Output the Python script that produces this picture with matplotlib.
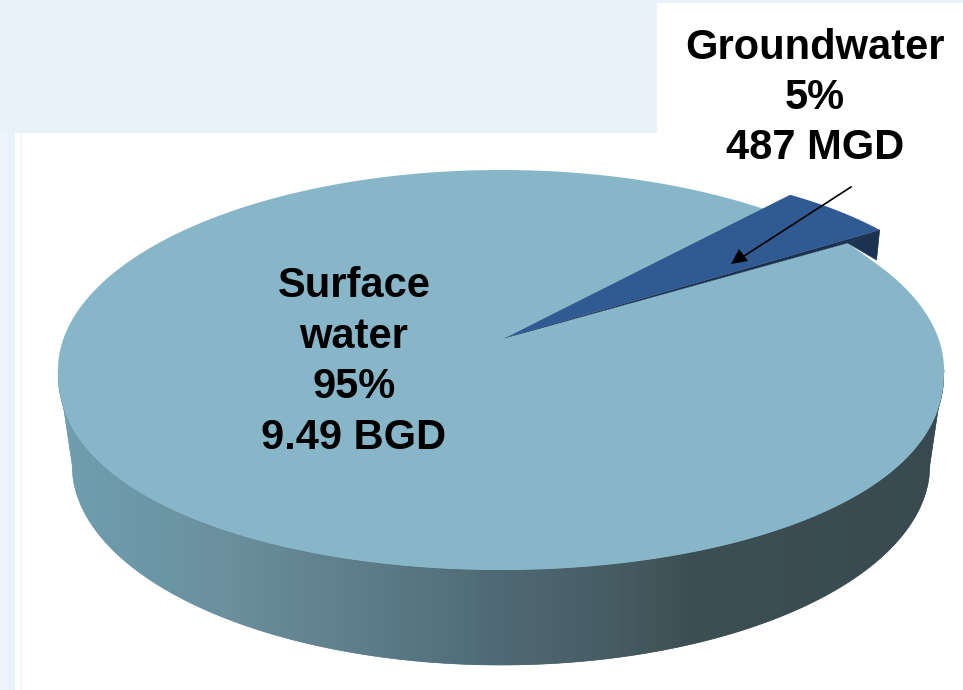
import numpy as np
import matplotlib
matplotlib.use("Agg")
import matplotlib.pyplot as plt
from matplotlib.colors import LinearSegmentedColormap
from matplotlib.patches import Polygon, Rectangle
from matplotlib.collections import PolyCollection

# ---- data ----
categories = ["Surface\nwater", "Groundwater"]
shares = [95, 5]
amounts = ["9.49 BGD", "487 MGD"]

# ---- layout (pixels of the 963x690 canvas) ----
W, H = 963, 690
CX, CY, RX, RY = 501, 370, 443, 200
DEPTH = 95 / RY
BASE_RX = 0.968               # the far rim of the base is a little narrower
FRONT_BULGE = 0.9             # front of the face is slightly fuller than an ellipse
APEX = (0.009, 0.16)          # where the wedge tip sits on the tilted face
START = 33.0                  # lower edge of the small slice, degrees
PERSPECTIVE = 1.13            # tilt widens the small slice on the face
RIM_R = 0.856                 # small slice's raised rim
RIM_START = 40.0
LIFT = (0.199, 0.15)

LIGHT = "#87b6c8"
BLUE = "#2f5a92"
NAVY = "#1b3350"
BG = "#e9f1fa"

fig = plt.figure(figsize=(W / 100, H / 100), dpi=100, facecolor=BG)
ax = fig.add_axes([0, 0, 1, 1])
ax.set_xlim(-CX / RX, (W - CX) / RX)
ax.set_ylim((CY - H) / RY, CY / RY)
ax.axis("off")

px = lambda p: (p - CX) / RX
py = lambda p: (CY - p) / RY


def face(theta):
    """Outline of the tilted top face for angles in radians."""
    s = np.sin(theta)
    return np.column_stack([np.cos(theta),
                            np.where(s < 0, -np.abs(s) ** FRONT_BULGE, s)])


# background panels
ax.add_patch(Rectangle((px(15), py(H)), px(W) - px(15), py(133) - py(H), fc="white", ec="none", zorder=0))
ax.add_patch(Rectangle((px(657), py(133)), px(W) - px(657), py(3) - py(133), fc="white", ec="none", zorder=0))
ax.add_patch(Rectangle((px(0), py(H)), px(8) - px(0), py(133) - py(H), fc="#edf4fc", ec="none", zorder=0))
ax.add_patch(Rectangle((px(20), py(H)), px(22) - px(20), py(133) - py(H), fc="#f6f6f6", ec="none", zorder=0))

span = 360 * shares[1] / sum(shares) * PERSPECTIVE

# cylinder wall, shaded from left to right in one-pixel columns
wall_cmap = LinearSegmentedColormap.from_list(
    "wall",
    [(0.0, "#6e9fb0"), (0.20, "#6a8e9c"), (0.32, "#5f808d"), (0.49, "#4f6a75"),
     (0.63, "#465b62"), (0.72, "#3b4e53"), (1.0, "#384a4f")])
phi = np.linspace(np.pi, 2 * np.pi, 1400)
rim_front = face(phi)
base_x = np.r_[-1.0, BASE_RX * np.cos(phi), 1.0]
base_y = np.r_[0.0, np.sin(phi) - DEPTH, 0.0]
columns = px(np.arange(CX - RX, CX + RX + 1))
quads, cols = [], []
for a, b in zip(columns[:-1], columns[1:]):
    ta, tb = np.interp([a, b], rim_front[:, 0], rim_front[:, 1])
    ba, bb = np.interp([a, b], base_x, base_y)
    quads.append([(a, ta), (b, tb), (b, bb), (a, ba)])
    cols.append(wall_cmap((a + b + 2) / 4))
ax.add_collection(PolyCollection(quads, facecolors=cols, edgecolors=cols, linewidths=0.4,
                                 joinstyle="round", capstyle="round", zorder=1))

# groundwater slice geometry
th2 = np.radians(np.linspace(RIM_START, RIM_START + 360 * shares[1] / sum(shares), 40))
rim = np.column_stack([RIM_R * np.cos(th2) + LIFT[0], RIM_R * np.sin(th2) + LIFT[1]])
outer_low = rim[0]
inner_corner = (outer_low[0] - 0.072, outer_low[1] - 0.065)
wall_foot = (outer_low[0] - 0.007, outer_low[1] - 0.15)

# surface-water slice
th = np.radians(np.linspace(START + span, START + 360, 720))
surface = np.vstack([APEX, inner_corner, face(th)[::-1]])
ax.add_patch(Polygon(surface, closed=True, fc=LIGHT, ec="none", zorder=3))

# groundwater wall then top
ax.add_patch(Polygon([outer_low, inner_corner, wall_foot],
                     closed=True, fc=NAVY, ec=NAVY, lw=0.5, zorder=4))
ax.add_patch(Polygon([APEX, inner_corner, outer_low],
                     closed=True, fc=NAVY, ec=NAVY, lw=0.3, zorder=4))
ax.add_patch(Polygon(np.vstack([APEX, rim]), closed=True, fc=BLUE, ec="none", zorder=5))

# labels
font = dict(family="Liberation Sans", fontweight="bold", fontsize=30, color="black",
            ha="center", va="center", linespacing=1.335, zorder=7)
ax.text(px(354), py(362), f"{categories[0]}\n{shares[0]}%\n{amounts[0]}", **font)
ax.text(px(815), py(98), f"{categories[1]}\n{shares[1]}%\n{amounts[1]}", **font)

# callout arrow
ax.plot([px(851), px(741)], [py(187), py(258)], color="black", lw=1.2, zorder=8)
ax.add_patch(Polygon([(px(739), py(249)), (px(731), py(264)), (px(748), py(261))],
                     closed=True, fc="black", ec="none", zorder=8))

fig.savefig("out.png", dpi=100, facecolor=fig.get_facecolor())
